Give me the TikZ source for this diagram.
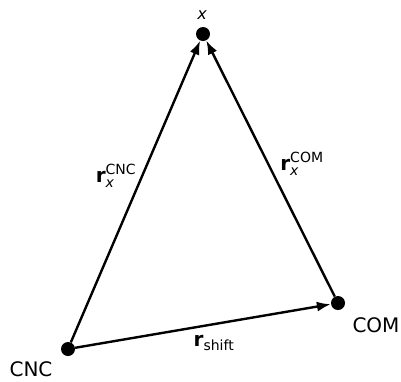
\documentclass[tikz,border=0pt]{standalone}
\usepackage{amsmath}
\usepackage{fontspec}
\setmainfont{DejaVu Sans}
\usetikzlibrary{arrows.meta,positioning}
\tikzset{
  pt/.style={circle,fill=black,inner sep=0pt,minimum size=14pt},
  lbl/.style={font=\fontsize{20}{24}\selectfont,inner sep=0pt},
  vec/.style={-{Latex[length=14pt,width=10pt]},draw=black,line width=2.4pt}
}

\begin{document}
\begin{tikzpicture}[x=1pt,y=-1pt]
        \useasboundingbox (0,0) rectangle (401,381);
        \node[pt] (x) at (203,34) {};
        \node[pt] (cnc) at (68,349) {};
        \node[pt] (com) at (338,303) {};
        \node[lbl,font=\fontsize{16}{18}\selectfont\itshape] (xlbl) at (202,15) {x};
        \node[lbl] (cnclbl) at (31,369) {CNC};
        \node[lbl] (comlbl) at (376,325) {COM};
        \draw[vec] (cnc) -- (x);
        \draw[vec] (com) -- (x);
        \draw[vec] (cnc) -- (com);
        \node[lbl] (rcnc) at (116,176) {$\textbf{r}_{\textit{x}}^{\text{CNC}}$};
        \node[lbl] (rcom) at (302,164) {$\textbf{r}_{\textit{x}}^{\text{COM}}$};
        \node[lbl] (rshift) at (214,343) {$\textbf{r}_{\text{shift}}$};
      \end{tikzpicture}
\end{document}
